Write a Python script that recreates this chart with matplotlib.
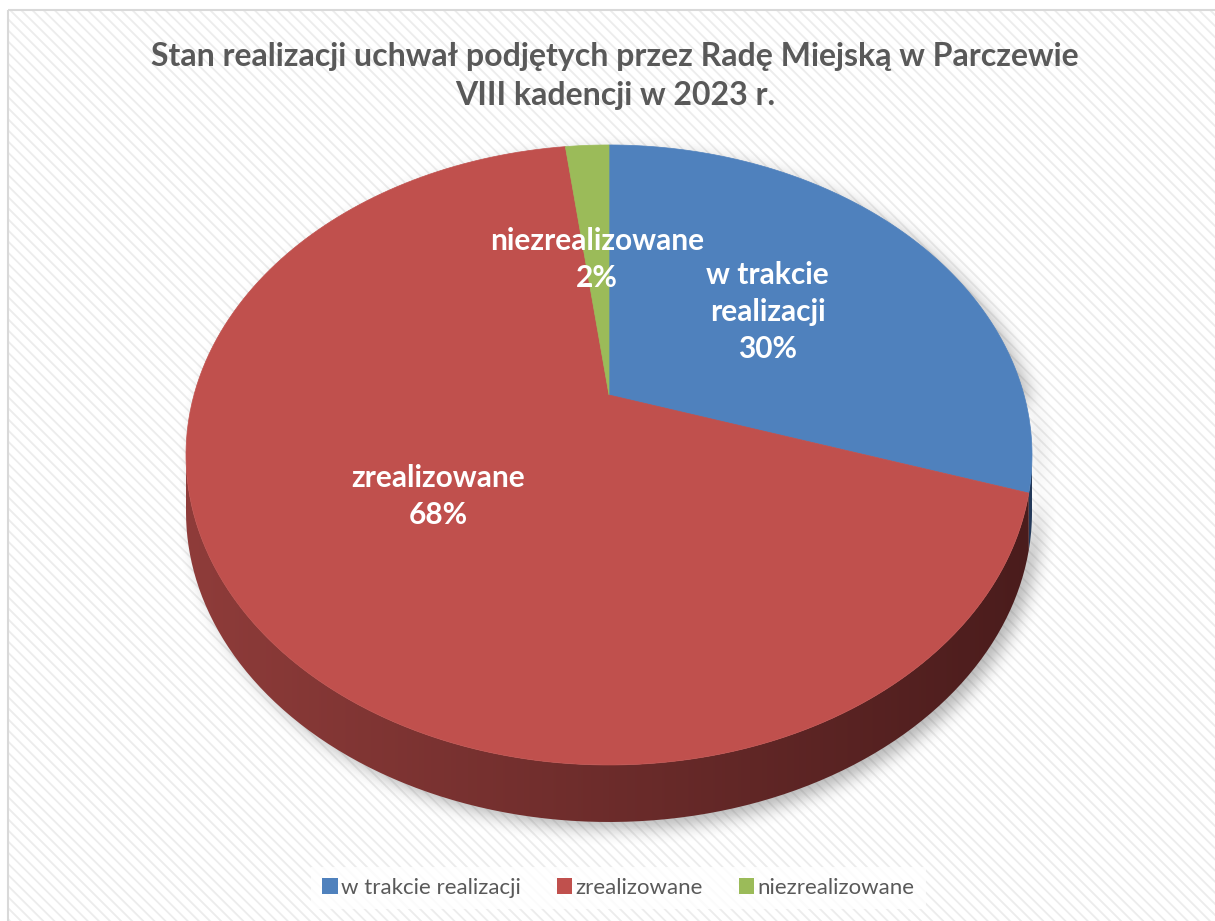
import numpy as np
import matplotlib.pyplot as plt
from matplotlib.colors import to_rgb
from matplotlib.patches import Polygon, Rectangle, Patch
from matplotlib.path import Path

plt.rcParams['font.family'] = ['Lato', 'DejaVu Sans']
plt.rcParams['hatch.linewidth'] = 1.3

title = "Stan realizacji uchwał podjętych przez Radę Miejską w Parczewie\nVIII kadencji w 2023 r."
categories = ["w trakcie realizacji", "zrealizowane", "niezrealizowane"]
slice_labels = ["w trakcie\nrealizacji", "zrealizowane", "niezrealizowane"]
values = [30, 68, 2]
colors = ["#4f81bd", "#c0504d", "#9bbb59"]
side_left = ["#3b6290", "#8f3c3a", "#76903f"]
side_right = ["#23395a", "#4a1c1c", "#46562a"]

W, H = 1215, 921
fig = plt.figure(figsize=(W / 100, H / 100), dpi=100)
ax = fig.add_axes([0, 0, 1, 1])
ax.set_xlim(0, W)
ax.set_ylim(H, 0)
ax.axis('off')

# background with diagonal stripes
ax.add_patch(Rectangle((8, 10), W, H, facecolor='white', edgecolor='#ececec',
                       hatch='\\\\\\', linewidth=0, zorder=0))
ax.add_patch(Rectangle((8, 10), W, H, facecolor='none', edgecolor='#d9d9d9',
                       linewidth=1.5, zorder=1))

# perspective projection of a tilted disc
cx, cy = 609, 395
c = 0.1935
a = 415
A = 298.4
depth = 57


def proj(t, f=1.0):
    t = np.radians(t)
    u, v = f * np.cos(t), f * np.sin(t)
    den = 1 + c * v
    return cx + a * u / den, cy - A * v / den


# slice angles, clockwise from 12 o'clock
fr = np.array(values) / sum(values)
starts = 90 - 360 * np.concatenate([[0], np.cumsum(fr)[:-1]])
ends = starts - 360 * fr

# silhouette for the shadow
tt = np.linspace(0, 360, 400)
ex, ey = proj(tt)
front = np.linspace(180 + np.degrees(np.arcsin(c)), 360 - np.degrees(np.arcsin(c)), 200)
fx, fy = proj(front)
sil = np.column_stack([np.concatenate([ex, fx[::-1]]), np.concatenate([ey, fy[::-1] + depth])])
gx, gy = np.meshgrid(np.arange(W), np.arange(H))
mask = Path(sil + [8, 7]).contains_points(np.column_stack([gx.ravel(), gy.ravel()])).reshape(H, W).astype(float)
k = 9
ker = np.ones(2 * k + 1) / (2 * k + 1)
for _ in range(2):
    mask = np.apply_along_axis(lambda r: np.convolve(r, ker, mode='same'), 1, mask)
    mask = np.apply_along_axis(lambda r: np.convolve(r, ker, mode='same'), 0, mask)
shadow = np.zeros((H, W, 4))
shadow[..., :3] = 0.3
shadow[..., 3] = mask * 0.4
ax.imshow(shadow, extent=(0, W, H, 0), zorder=2, interpolation='bilinear')

# side walls
lo, hi = front[0], front[-1]
grad = np.linspace(0, 1, 1024)[None, :]
for i in range(len(values)):
    s0 = ends[i] % 360
    s1 = s0 + 360 * fr[i]
    for off in (0, 360, -360):
        t0, t1 = max(s0 + off, lo), min(s1 + off, hi)
        if t1 <= t0:
            continue
        ts = np.linspace(t0, t1, 100)
        px, py = proj(ts)
        poly = Polygon(np.column_stack([np.concatenate([px, px[::-1]]),
                                        np.concatenate([py, py[::-1] + depth])]),
                       closed=True, facecolor='none', edgecolor='none')
        ax.add_patch(poly)
        cl = np.array(to_rgb(side_left[i]))
        cr = np.array(to_rgb(side_right[i]))
        img = cl[None, None, :] * (1 - grad[..., None]) + cr[None, None, :] * grad[..., None]
        im = ax.imshow(img, extent=(ex.min(), ex.max(), 900, 300), aspect='auto',
                       zorder=3, interpolation='bilinear')
        im.set_clip_path(poly)

# top faces
for i in range(len(values)):
    ts = np.linspace(starts[i], ends[i], 200)
    px, py = proj(ts)
    pts = np.column_stack([np.concatenate([[cx], px]), np.concatenate([[cy], py])])
    ax.add_patch(Polygon(pts, closed=True, facecolor=colors[i], edgecolor=colors[i],
                         linewidth=0.5, zorder=4))

# labels
for i in range(len(values)):
    mx, my = proj((starts[i] + ends[i]) / 2, 0.5)
    ax.text(mx, my, f"{slice_labels[i]}\n{values[i]}%", color='white', fontsize=21.5,
            fontweight='bold', ha='center', va='center', linespacing=1.38, zorder=5)

ax.text(615, 76, title, ha='center', va='center', fontsize=23, fontweight='bold',
        color='#595959', linespacing=1.45, zorder=5)

handles = [Patch(facecolor=col, edgecolor='none') for col in colors]
leg = ax.legend(handles, categories, loc='center', bbox_to_anchor=(0.509, 0.036),
                ncol=3, frameon=True, fontsize=16, handlelength=0.7, handleheight=0.7,
                handletextpad=0.15, columnspacing=1.6, borderpad=0.5, labelcolor='#595959')
leg.get_frame().set_facecolor('white')
leg.get_frame().set_edgecolor('none')
leg.get_frame().set_boxstyle('square', pad=0)
leg.set_zorder(6)

fig.savefig('out.png', dpi=100)
